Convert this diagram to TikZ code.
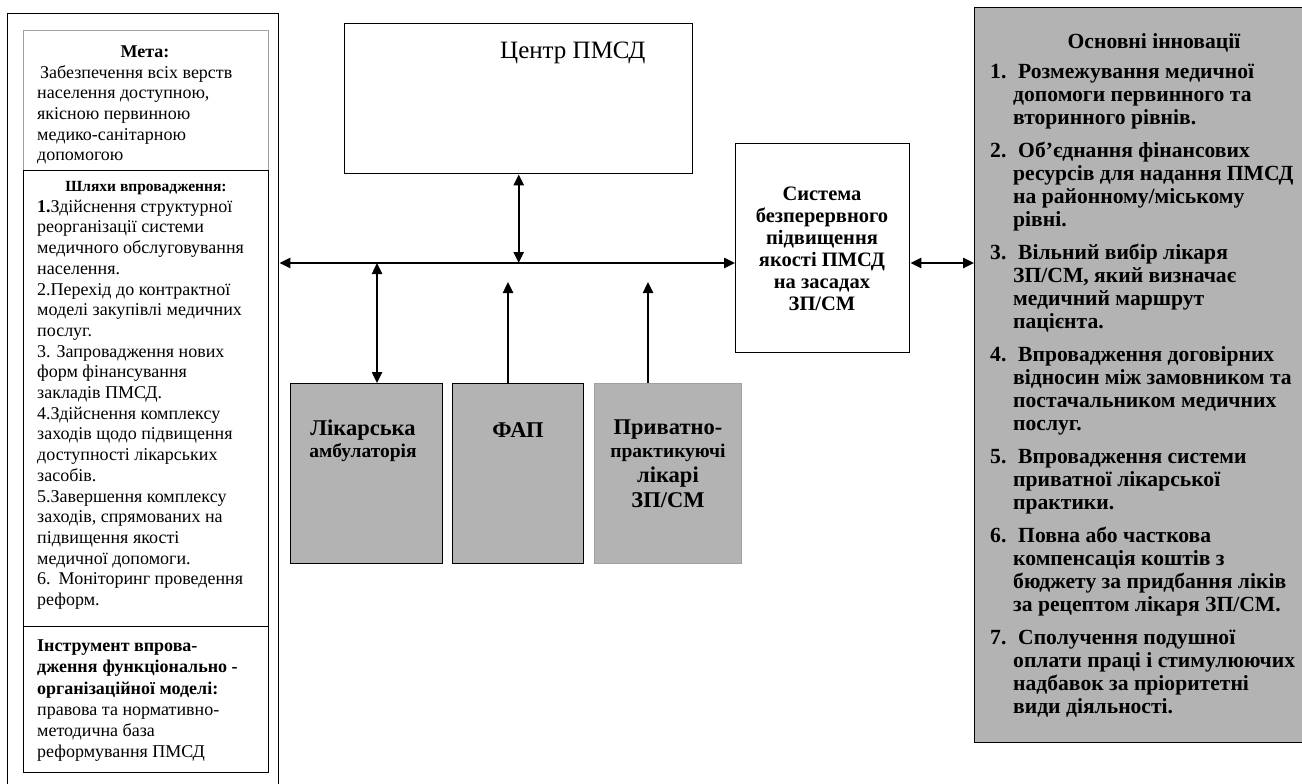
\documentclass[tikz,border=0pt]{standalone}
\usepackage{fontspec}
\setmainfont{Liberation Serif}
\usetikzlibrary{arrows.meta}
\definecolor{boxgray}{HTML}{B3B3B3}
\definecolor{edgegray}{HTML}{A0A0A0}
\begin{document}
\begin{tikzpicture}[x=1pt,y=-1pt,
  box/.style={draw, line width=1.4pt, inner sep=0pt, anchor=north west},
  fillbox/.style={box, fill=boxgray},
  arr/.style={line width=2.4pt, -{Triangle[length=11pt,width=10pt]}},
  darr/.style={line width=2.4pt, {Triangle[length=11pt,width=10pt]}-{Triangle[length=11pt,width=10pt]}},
  ltxt/.style={inner sep=0pt, align=left, anchor=north west, font=\fontsize{18}{20.7}\selectfont},
  itxt/.style={inner sep=0pt, align=left, anchor=north west, font=\bfseries\fontsize{21.6}{23}\selectfont},
  ttl/.style={inner sep=0pt, font=\bfseries\fontsize{18}{20.7}\selectfont},
  big/.style={inner sep=0pt, font=\bfseries\fontsize{22.5}{23}\selectfont},
  small/.style={inner sep=0pt, font=\bfseries\fontsize{19.5}{23}\selectfont}]
\useasboundingbox (0,0) rectangle (1302,784);
\clip (0,0) rectangle (1302,784);
\fill[white] (0,0) rectangle (1302,784);

% left column
\node[box, minimum width=271pt, minimum height=800pt] (outer) at (7,13) {};
\node[box, draw=edgegray, minimum width=245pt, minimum height=140pt] (meta) at (23,30) {};
\node[box, minimum width=245pt, minimum height=456pt] (ways) at (23,170) {};
\node[box, minimum width=245pt, minimum height=146pt] (tool) at (23,626) {};

\node[ttl] (metattl) at (145,52) {Мета:};
\node[ltxt] (metabody) at (37,63.5) {\strut\hspace{3pt}Забезпечення всіх верств\\населення доступною,\\якісною первинною\\медико-санітарною\\допомогою};

\node[ttl, font=\bfseries\fontsize{15.5}{18}\selectfont] (waysttl) at (146,188) {Шляхи впровадження:};
\node[ltxt] (waysbody) at (37,197.6) {\strut\textbf{1.}Здійснення структурної\\реорганізації системи\\медичного обслуговування\\населення.\\2.Перехід до контрактної\\моделі закупівлі медичних\\послуг.\\3. Запровадження нових\\форм фінансування\\закладів ПМСД.\\4.Здійснення комплексу\\заходів щодо підвищення\\доступності лікарських\\засобів.\\5.Завершення комплексу\\заходів, спрямованих на\\підвищення якості\\медичної допомоги.\\6.\hspace{8pt}Моніторинг проведення\\реформ.};

\node[ltxt, font=\fontsize{18}{21.2}\selectfont] (toolbody) at (37,636.6) {\strut\textbf{Інструмент впрова-}\\\textbf{дження\hspace{5pt}функціонально -}\\\textbf{організаційної моделі:}\\правова та нормативно-\\методична база\\реформування ПМСД};

% centre
\node[box, minimum width=348pt, minimum height=150pt] (centr) at (344,23) {};
\node[inner sep=0pt, anchor=west, font=\fontsize{25}{28}\selectfont] (centrt) at (500,53) {Центр ПМСД};

\node[box, minimum width=174pt, minimum height=209pt] (sys) at (735,143) {};
\node[inner sep=0pt, align=center, font=\bfseries\fontsize{20.5}{22}\selectfont] (syst) at (822,249) {Система\\безперервного\\підвищення\\якості ПМСД\\на засадах\\ЗП/СМ};

\node[fillbox, minimum width=152pt, minimum height=180pt] (lik) at (290,383) {};
\node[fillbox, minimum width=131pt, minimum height=180pt] (fap) at (452,383) {};
\node[fillbox, draw=edgegray, minimum width=147pt, minimum height=180pt] (priv) at (594,383) {};

\node[big] (likt1) at (363,430) {Лікарська};
\node[small] (likt2) at (363,453) {амбулаторія};
\node[big] (fapt) at (518,430) {ФАП};
\node[big] (privt1) at (668,430) {Приватно-};
\node[small] (privt2) at (668,453) {практикуючі};
\node[big] (privt3) at (668,477) {лікарі};
\node[big] (privt4) at (668,500) {ЗП/СМ};

% right box
\node[fillbox, minimum width=360pt, minimum height=735pt] (innov) at (974,7) {};
\node[inner sep=0pt, font=\bfseries\fontsize{21.6}{23}\selectfont] (innovttl) at (1154,43) {Основні інновації};
\node[itxt] (n1) at (990,61.9) {\strut 1.};
\node[itxt] (i1) at (1013,61.9) {\strut\hspace{5pt}Розмежування медичної\\допомоги первинного та\\вторинного рівнів.};
\node[itxt] (n2) at (990,140.9) {\strut 2.};
\node[itxt] (i2) at (1013,140.9) {\strut\hspace{5pt}Об’єднання фінансових\\ресурсів для надання ПМСД\\на районному/міському\\рівні.};
\node[itxt] (n3) at (990,242.9) {\strut 3.};
\node[itxt] (i3) at (1013,242.9) {\strut\hspace{5pt}Вільний вибір лікаря\\ЗП/СМ, який визначає\\медичний маршрут\\пацієнта.};
\node[itxt] (n4) at (990,344.9) {\strut 4.};
\node[itxt] (i4) at (1013,344.9) {\strut\hspace{5pt}Впровадження договірних\\відносин між замовником та\\постачальником медичних\\послуг.};
\node[itxt] (n5) at (990,446.9) {\strut 5.};
\node[itxt] (i5) at (1013,446.9) {\strut\hspace{5pt}Впровадження системи\\приватної лікарської\\практики.};
\node[itxt] (n6) at (990,525.9) {\strut 6.};
\node[itxt] (i6) at (1013,525.9) {\strut\hspace{5pt}Повна або часткова\\компенсація коштів з\\бюджету за придбання ліків\\за рецептом лікаря ЗП/СМ.};
\node[itxt] (n7) at (990,627.9) {\strut 7.};
\node[itxt] (i7) at (1013,627.9) {\strut\hspace{5pt}Сполучення подушної\\оплати праці і стимулюючих\\надбавок за пріоритетні\\види діяльності.};

% connectors
\coordinate (busy) at (0,263);
\coordinate (x1) at (377,0);
\coordinate (x2) at (508,282);
\coordinate (x3) at (648,282);
\draw[darr] (outer.east |- busy) -- (sys.west |- busy);
\draw[darr] (centr.south) -- (centr.south |- busy);
\draw[darr] (x1 |- busy) -- (x1 |- lik.north);
\draw[arr] (x2 |- fap.north) -- (x2);
\draw[arr] (x3 |- priv.north) -- (x3);
\draw[darr] (sys.east |- busy) -- (innov.west |- busy);
\end{tikzpicture}
\end{document}
